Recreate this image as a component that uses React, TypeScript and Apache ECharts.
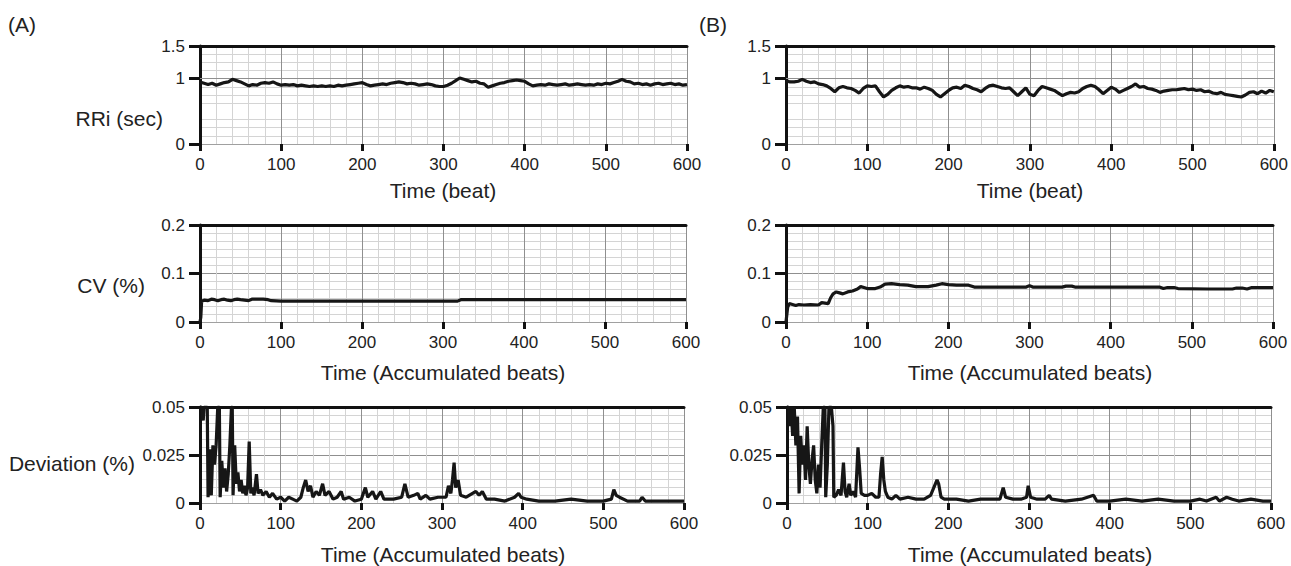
import React, { useEffect, useRef } from "react";
import * as echarts from "echarts";

// ---------------- DATA ----------------
const RRI_STEP = 5; // beats between samples
const rriA = [
  0.95, 0.93, 0.91, 0.93, 0.90, 0.92, 0.94, 0.95, 0.99, 0.97, 0.95, 0.92, 0.89, 0.91, 0.90, 0.93, 0.94, 0.93, 0.95, 0.92,
  0.90, 0.91, 0.90, 0.91, 0.89, 0.90, 0.89, 0.88, 0.89, 0.88, 0.89, 0.88, 0.89, 0.88, 0.90, 0.89, 0.90, 0.91, 0.92, 0.93,
  0.94, 0.91, 0.89, 0.90, 0.91, 0.92, 0.91, 0.93, 0.94, 0.95, 0.94, 0.92, 0.93, 0.92, 0.90, 0.91, 0.92, 0.91, 0.89, 0.88,
  0.88, 0.90, 0.93, 0.97, 1.01, 0.99, 0.97, 0.95, 0.96, 0.93, 0.92, 0.87, 0.89, 0.91, 0.93, 0.94, 0.96, 0.97, 0.98, 0.97,
  0.96, 0.92, 0.89, 0.90, 0.91, 0.90, 0.92, 0.91, 0.90, 0.91, 0.92, 0.90, 0.91, 0.92, 0.91, 0.90, 0.91, 0.90, 0.92, 0.91,
  0.93, 0.92, 0.94, 0.96, 0.99, 0.96, 0.95, 0.92, 0.93, 0.91, 0.92, 0.90, 0.92, 0.93, 0.91, 0.92, 0.93, 0.91, 0.92, 0.90,
  0.91,
];
const rriB = [
  0.97, 0.95, 0.95, 0.96, 0.99, 0.96, 0.94, 0.95, 0.92, 0.91, 0.89, 0.85, 0.80, 0.86, 0.88, 0.86, 0.85, 0.82, 0.78, 0.85,
  0.89, 0.88, 0.89, 0.80, 0.72, 0.76, 0.82, 0.86, 0.89, 0.87, 0.88, 0.86, 0.86, 0.84, 0.87, 0.85, 0.82, 0.76, 0.72, 0.77,
  0.82, 0.86, 0.87, 0.85, 0.90, 0.88, 0.85, 0.83, 0.80, 0.85, 0.89, 0.90, 0.88, 0.86, 0.85, 0.86, 0.80, 0.74, 0.80, 0.86,
  0.76, 0.74, 0.82, 0.88, 0.86, 0.84, 0.82, 0.78, 0.74, 0.77, 0.79, 0.78, 0.80, 0.85, 0.88, 0.90, 0.88, 0.83, 0.77, 0.82,
  0.87, 0.84, 0.79, 0.82, 0.85, 0.88, 0.92, 0.87, 0.88, 0.85, 0.84, 0.82, 0.79, 0.81, 0.82, 0.83, 0.83, 0.84, 0.85, 0.83,
  0.84, 0.82, 0.83, 0.80, 0.81, 0.78, 0.77, 0.79, 0.76, 0.75, 0.74, 0.73, 0.72, 0.75, 0.79, 0.80, 0.77, 0.81, 0.78, 0.82,
  0.80,
];

const cvA: [number, number][] = [
  [0, 0], [1, 0.01], [2, 0.043], [5, 0.045], [10, 0.044], [14, 0.047], [18, 0.046], [22, 0.044], [26, 0.046],
  [30, 0.047], [34, 0.045], [38, 0.044], [42, 0.046], [46, 0.047], [50, 0.046], [55, 0.045], [60, 0.044],
  [64, 0.047], [70, 0.047], [78, 0.047], [84, 0.046], [88, 0.044], [100, 0.043], [200, 0.043], [318, 0.043],
  [322, 0.046], [400, 0.046], [500, 0.046], [600, 0.046],
];
const cvB: [number, number][] = [
  [0, 0], [2, 0.03], [4, 0.038], [8, 0.036], [12, 0.034], [16, 0.036], [22, 0.035], [30, 0.036], [40, 0.035],
  [44, 0.04], [48, 0.039], [52, 0.038], [55, 0.05], [58, 0.058], [62, 0.062], [66, 0.06], [70, 0.058], [76, 0.062],
  [82, 0.064], [88, 0.068], [92, 0.073], [96, 0.071], [100, 0.069], [110, 0.069], [116, 0.072], [122, 0.078],
  [130, 0.079], [140, 0.077], [150, 0.076], [160, 0.073], [175, 0.073], [185, 0.076], [192, 0.079], [200, 0.077],
  [210, 0.076], [225, 0.076], [232, 0.072], [260, 0.072], [296, 0.072], [300, 0.075], [304, 0.072], [340, 0.072],
  [345, 0.074], [352, 0.074], [356, 0.072], [400, 0.072], [460, 0.072], [465, 0.069], [470, 0.071], [478, 0.071],
  [483, 0.069], [520, 0.068], [550, 0.068], [555, 0.07], [562, 0.07], [568, 0.068], [574, 0.071], [600, 0.071],
];

const devA: [number, number][] = [
  [0, 0.05], [2, 0.05], [4, 0.043], [5, 0.05], [7, 0.05], [9, 0.05], [10, 0.003], [12, 0.028], [14, 0.004],
  [16, 0.03], [18, 0.02], [20, 0.03], [22, 0.05], [24, 0.05], [25, 0.003], [27, 0.022], [29, 0.008], [31, 0.018],
  [33, 0.006], [35, 0.015], [37, 0.03], [39, 0.05], [40, 0.05], [41, 0.004], [43, 0.03], [45, 0.01], [47, 0.016],
  [49, 0.006], [51, 0.012], [53, 0.005], [55, 0.009], [57, 0.004], [59, 0.008], [61, 0.032], [63, 0.005],
  [65, 0.008], [67, 0.004], [70, 0.015], [72, 0.005], [75, 0.007], [78, 0.004], [82, 0.006], [86, 0.003],
  [90, 0.005], [95, 0.002], [100, 0.003], [105, 0.001], [110, 0.003], [115, 0.002], [120, 0.001], [125, 0.003],
  [128, 0.008], [131, 0.012], [134, 0.006], [137, 0.009], [140, 0.003], [144, 0.006], [148, 0.004], [152, 0.01],
  [155, 0.004], [160, 0.006], [165, 0.002], [170, 0.003], [175, 0.006], [178, 0.002], [185, 0.003], [192, 0.001],
  [200, 0.002], [205, 0.008], [208, 0.003], [214, 0.006], [218, 0.002], [224, 0.006], [228, 0.002], [240, 0.002],
  [250, 0.003], [254, 0.01], [258, 0.003], [265, 0.004], [270, 0.005], [273, 0.002], [280, 0.004], [285, 0.002],
  [295, 0.003], [305, 0.003], [308, 0.009], [311, 0.005], [313, 0.012], [315, 0.021], [317, 0.008], [320, 0.012],
  [323, 0.004], [330, 0.003], [342, 0.006], [346, 0.004], [350, 0.006], [355, 0.002], [365, 0.002], [378, 0.001],
  [390, 0.003], [395, 0.005], [398, 0.003], [405, 0.002], [420, 0.001], [440, 0.001], [460, 0.002], [480, 0.001],
  [500, 0.001], [510, 0.002], [513, 0.007], [516, 0.004], [520, 0.003], [530, 0.001], [545, 0.001], [548, 0.003],
  [552, 0.001], [580, 0.001], [600, 0.001],
];
const devB: [number, number][] = [
  [0, 0.05], [2, 0.05], [3, 0.04], [5, 0.05], [7, 0.035], [9, 0.05], [11, 0.03], [13, 0.045], [15, 0.005],
  [17, 0.035], [19, 0.02], [21, 0.03], [23, 0.012], [25, 0.04], [27, 0.02], [29, 0.01], [31, 0.022], [33, 0.03],
  [35, 0.012], [37, 0.005], [39, 0.02], [41, 0.008], [43, 0.03], [45, 0.05], [47, 0.05], [48, 0.003], [50, 0.02],
  [52, 0.05], [55, 0.05], [57, 0.04], [58, 0.003], [61, 0.004], [64, 0.007], [67, 0.004], [70, 0.021], [72, 0.006],
  [74, 0.003], [77, 0.01], [79, 0.004], [82, 0.006], [85, 0.003], [88, 0.029], [90, 0.018], [92, 0.005],
  [96, 0.004], [100, 0.004], [105, 0.005], [110, 0.003], [114, 0.003], [116, 0.015], [118, 0.024], [120, 0.012],
  [122, 0.006], [125, 0.003], [130, 0.002], [135, 0.004], [140, 0.002], [150, 0.003], [160, 0.002], [170, 0.002],
  [178, 0.004], [182, 0.008], [186, 0.012], [188, 0.01], [191, 0.003], [195, 0.002], [210, 0.002], [225, 0.001],
  [240, 0.002], [255, 0.002], [264, 0.002], [268, 0.008], [271, 0.003], [280, 0.002], [290, 0.002], [297, 0.003],
  [299, 0.009], [302, 0.003], [310, 0.002], [320, 0.002], [325, 0.004], [328, 0.002], [345, 0.001], [365, 0.002],
  [380, 0.004], [384, 0.001], [400, 0.001], [420, 0.002], [440, 0.001], [460, 0.002], [480, 0.001], [500, 0.001],
  [512, 0.002], [520, 0.001], [532, 0.003], [536, 0.001], [545, 0.003], [552, 0.002], [560, 0.001], [575, 0.002],
  [590, 0.001], [600, 0.001],
];

const xTickInterval = 100;
const xMax = 600;
const rriTicks = [0, 1, 1.5];
const cvTicks = [0, 0.1, 0.2];
const devTicks = [0, 0.025, 0.05];
const rriRefLine = 1;

// --------------- STYLE / LAYOUT ---------------
const FONT = "'Liberation Sans', Arial, Helvetica, sans-serif";
const TXT = "#222";
const LINE = "#161616";
const MAJOR = "#8f8f8f";
const MINOR = "#d4d4d4";

type Panel = {
  grid: { left: number; top: number; width: number; height: number };
  yMax: number;
  yInterval: number;
  yMinorSplit: number;
  yMajorColor: string;
  yTicks: number[];
  refLine: number | null;
  data: [number, number][];
};

const toPairs = (vals: number[]): [number, number][] => vals.map((v, i) => [i * RRI_STEP, v]);

const panels: Panel[] = [
  { grid: { left: 200, top: 46, width: 487, height: 98 }, yMax: 1.5, yInterval: 0.5, yMinorSplit: 4, yMajorColor: MINOR, yTicks: rriTicks, refLine: rriRefLine, data: toPairs(rriA) },
  { grid: { left: 200, top: 225, width: 486, height: 97 }, yMax: 0.2, yInterval: 0.1, yMinorSplit: 6, yMajorColor: MAJOR, yTicks: cvTicks, refLine: null, data: cvA },
  { grid: { left: 200, top: 407, width: 484, height: 96 }, yMax: 0.05, yInterval: 0.025, yMinorSplit: 6, yMajorColor: MAJOR, yTicks: devTicks, refLine: null, data: devA },
  { grid: { left: 786, top: 46, width: 488, height: 98 }, yMax: 1.5, yInterval: 0.5, yMinorSplit: 4, yMajorColor: MINOR, yTicks: rriTicks, refLine: rriRefLine, data: toPairs(rriB) },
  { grid: { left: 786, top: 225, width: 487, height: 97 }, yMax: 0.2, yInterval: 0.1, yMinorSplit: 6, yMajorColor: MAJOR, yTicks: cvTicks, refLine: null, data: cvB },
  { grid: { left: 787, top: 407, width: 484, height: 96 }, yMax: 0.05, yInterval: 0.025, yMinorSplit: 6, yMajorColor: MAJOR, yTicks: devTicks, refLine: null, data: devB },
];

function buildOption() {
  const grids: any[] = [];
  const xAxes: any[] = [];
  const yAxes: any[] = [];
  const series: any[] = [];
  panels.forEach((p, i) => {
    grids.push({ ...p.grid, containLabel: false });
    xAxes.push({
      type: "value",
      gridIndex: i,
      position: "bottom",
      min: 0,
      max: xMax,
      interval: xTickInterval,
      axisLine: { show: true, onZero: false, lineStyle: { color: "#a0a0a0", width: 1 } },
      axisTick: { show: true, length: 7, lineStyle: { color: "#111", width: 3 } },
      axisLabel: { fontSize: 17, color: TXT, fontFamily: FONT, margin: 12 },
      splitLine: { show: true, lineStyle: { color: MAJOR, width: 1 } },
      minorTick: { show: false, splitNumber: 5 },
      minorSplitLine: { show: true, lineStyle: { color: MINOR, width: 1 } },
    });
    xAxes.push({
      type: "value",
      gridIndex: i,
      position: "top",
      min: 0,
      max: xMax,
      interval: xTickInterval,
      axisLine: { show: true, onZero: false, lineStyle: { color: "#111", width: 3 } },
      axisTick: { show: false },
      axisLabel: { show: false },
      splitLine: { show: false },
    });
    yAxes.push({
      type: "value",
      gridIndex: i,
      min: 0,
      max: p.yMax,
      interval: p.yInterval,
      axisLine: { show: true, onZero: false, lineStyle: { color: "#111", width: 3 } },
      axisTick: { show: true, length: 11, lineStyle: { color: "#111", width: 3 }, customValues: p.yTicks },
      axisLabel: { fontSize: 17, color: TXT, fontFamily: FONT, margin: 15, customValues: p.yTicks },
      splitLine: { show: true, lineStyle: { color: p.yMajorColor, width: 1 } },
      minorTick: { show: false, splitNumber: p.yMinorSplit },
      minorSplitLine: { show: true, lineStyle: { color: MINOR, width: 1 } },
    });
    const s: any = {
      type: "line",
      xAxisIndex: 2 * i,
      yAxisIndex: i,
      data: p.data,
      showSymbol: false,
      symbol: "none",
      clip: true,
      lineStyle: { color: LINE, width: 3.2 },
      z: 3,
    };
    if (p.refLine !== null) {
      s.markLine = {
        silent: true,
        symbol: "none",
        label: { show: false },
        lineStyle: { color: MAJOR, width: 1, type: "solid" },
        data: [{ yAxis: p.refLine }],
        z: 1,
      };
    }
    series.push(s);
  });

  const txt = (x: number, y: number, text: string, size: number, align: string = "left") => ({
    type: "text",
    x,
    y,
    style: { text, fontSize: size, fontFamily: FONT, fill: TXT, textAlign: align, textVerticalAlign: "middle" },
  });

  const graphic = [
    txt(8, 24, "(A)", 21),
    txt(699, 24, "(B)", 21),
    txt(163, 118, "RRi (sec)", 21, "right"),
    txt(145, 285, "CV (%)", 21, "right"),
    txt(135, 463, "Deviation (%)", 21, "right"),
    txt(443, 190, "Time (beat)", 21, "center"),
    txt(443, 372, "Time (Accumulated beats)", 21, "center"),
    txt(443, 554, "Time (Accumulated beats)", 21, "center"),
    txt(1030, 190, "Time (beat)", 21, "center"),
    txt(1030, 372, "Time (Accumulated beats)", 21, "center"),
    txt(1030, 554, "Time (Accumulated beats)", 21, "center"),
  ];

  return {
    animation: false,
    backgroundColor: "#ffffff",
    grid: grids,
    xAxis: xAxes,
    yAxis: yAxes,
    series,
    graphic,
  };
}

export default function App() {
  const ref = useRef<HTMLDivElement>(null);
  useEffect(() => {
    if (!ref.current) return;
    const chart = echarts.init(ref.current, undefined, { renderer: "svg" });
    chart.setOption(buildOption() as any);
    return () => chart.dispose();
  }, []);
  return (
    <div
      ref={ref}
      style={{ position: "fixed", left: 0, top: 0, width: 1291, height: 566, background: "#fff" }}
    />
  );
}
